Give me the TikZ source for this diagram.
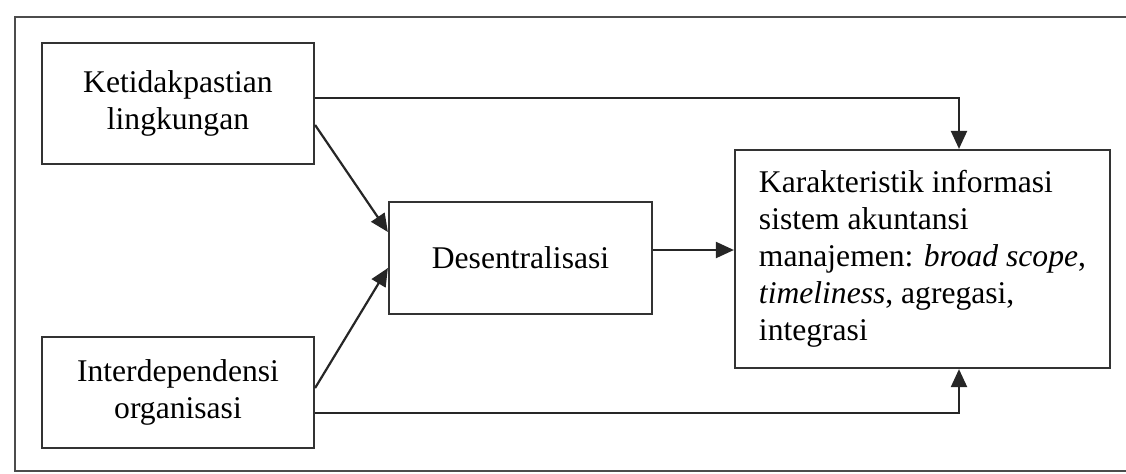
\documentclass[tikz,border=0pt]{standalone}
\usepackage{fontspec}
\setmainfont{Liberation Serif}
\usetikzlibrary{arrows.meta, positioning}

\begin{document}
\begin{tikzpicture}[x=0.5pt, y=-0.5pt,
  box/.style={draw=black!80, line width=1.1pt, rectangle, font=\fontsize{15.8}{18.5}\selectfont, align=center, inner sep=0pt},
  arr/.style={draw=black!85, line width=1.1pt, -{Triangle[length=9pt, width=8pt]}}]
\useasboundingbox (0,0) rectangle (1126,473);
\draw[black!70, line width=1pt] (1126,17) -- (15,17) -- (15,471) -- (1126,471);

\node[box, minimum width=136pt, minimum height=60.5pt](ket) at (178,103.5) {Ketidakpastian\\lingkungan};
\node[box, minimum width=136pt, minimum height=55.5pt](org) at (178,392.5) {Interdependensi\\organisasi};
\node[box, minimum width=131.5pt, minimum height=56pt](dec) at (520.5,258) {Desentralisasi};
\node[box, align=left, minimum width=187.5pt, minimum height=109pt](kar) at (922.5,259)
  {Karakteristik informasi\\sistem akuntansi\\manajemen: \textit{broad scope},\\\textit{timeliness}, agregasi,\\integrasi};

\draw[arr] ([yshift=2.75pt]ket.east) -| ([xshift=18.25pt]kar.north);
\draw[arr] ([yshift=-10.25pt]org.east) -| ([xshift=18.25pt]kar.south);
\draw[arr] ([yshift=-10.75pt]ket.east) -- ([yshift=13pt]dec.west);
\draw[arr] ([yshift=2.25pt]org.east) -- ([yshift=-5pt]dec.west);
\draw[arr] ([yshift=4pt]dec.east) -- ([yshift=4pt]dec.east -| kar.west);
\end{tikzpicture}
\end{document}
